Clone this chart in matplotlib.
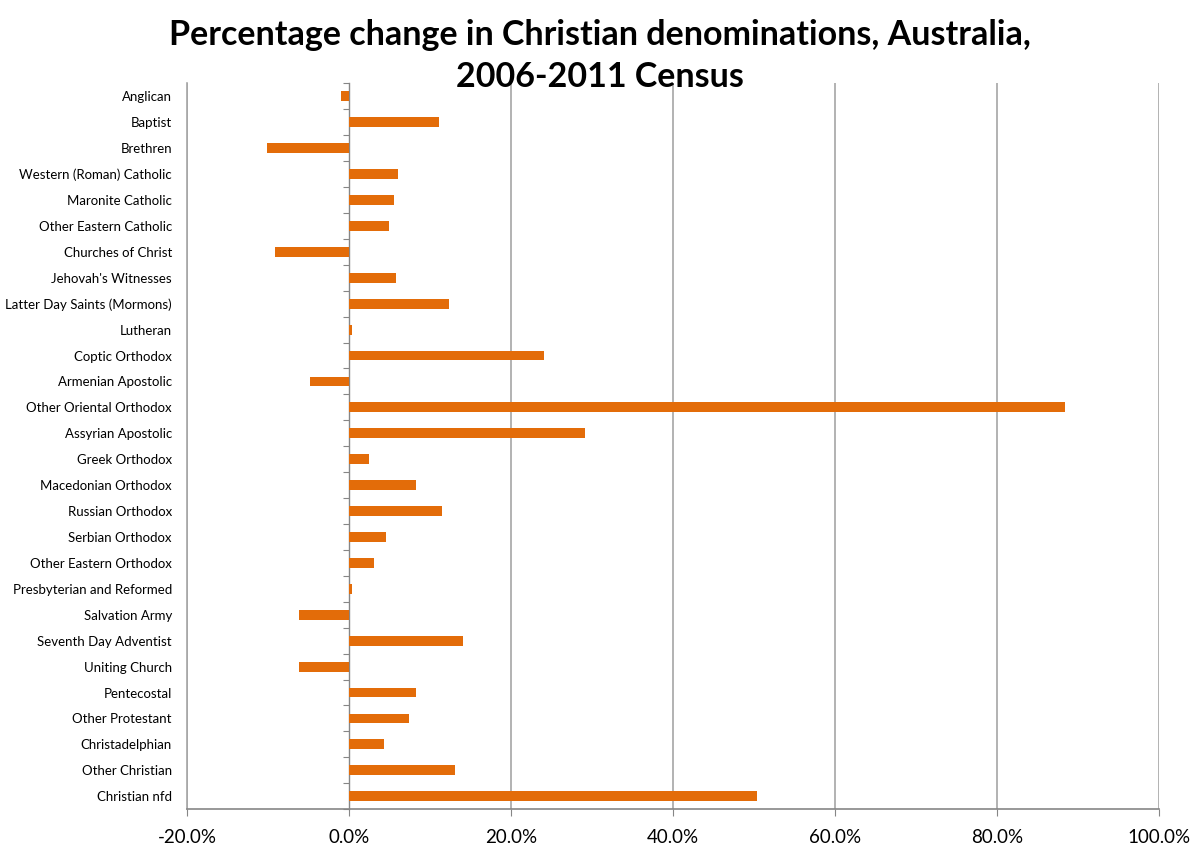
import matplotlib
matplotlib.use("Agg")
import matplotlib.pyplot as plt
import numpy as np

# Percentage change 2006-2011
denominations = [
    "Anglican", "Baptist", "Brethren", "Western (Roman) Catholic",
    "Maronite Catholic", "Other Eastern Catholic", "Churches of Christ",
    "Jehovah's Witnesses", "Latter Day Saints (Mormons)", "Lutheran",
    "Coptic Orthodox", "Armenian Apostolic", "Other Oriental Orthodox",
    "Assyrian Apostolic", "Greek Orthodox", "Macedonian Orthodox",
    "Russian Orthodox", "Serbian Orthodox", "Other Eastern Orthodox",
    "Presbyterian and Reformed", "Salvation Army", "Seventh Day Adventist",
    "Uniting Church", "Pentecostal", "Other Protestant", "Christadelphian",
    "Other Christian", "Christian nfd",
]
pct_change = [
    -1.0, 11.1, -10.2, 6.0,
    5.5, 4.9, -9.2,
    5.8, 12.3, 0.3,
    24.0, -4.8, 88.4,
    29.1, 2.4, 8.3,
    11.4, 4.6, 3.1,
    0.4, -6.2, 14.0,
    -6.2, 8.3, 7.4, 4.3,
    13.0, 50.4,
]
x_ticks = [-20, 0, 20, 40, 60, 80, 100]

plt.rcParams["font.family"] = ["Lato", "DejaVu Sans"]

fig = plt.figure(figsize=(12, 8.59), dpi=100)
ax = fig.add_axes([0.156, 0.058, 0.81, 0.845])

y = np.arange(len(denominations))
ax.barh(y, pct_change, height=0.38, color="#E36C09", zorder=3)

ax.set_xlim(-20, 100)
ax.set_ylim(len(denominations) - 0.5, -0.5)

# x axis
ax.set_xticks(x_ticks)
ax.set_xticklabels([f"{t:.1f}%" for t in x_ticks], fontsize=13.5)
ax.tick_params(axis="x", direction="out", length=5, color="#868686", pad=9)
for t in x_ticks:
    if t != 0:
        ax.axvline(t, color="#a6a6a6", lw=1.2, zorder=1)

# category labels on the left
ax.set_yticks(y)
ax.set_yticklabels(denominations, fontsize=9.5)
ax.tick_params(axis="y", length=0, pad=11)

for side in ["top", "right"]:
    ax.spines[side].set_visible(False)
ax.spines["left"].set_color("#a6a6a6")
ax.spines["left"].set_linewidth(1.2)
ax.spines["bottom"].set_color("#868686")
ax.spines["bottom"].set_linewidth(1.2)

# vertical category axis crossing at zero, with tick marks between categories
x0, x1 = ax.get_xlim()
zero_pos = (0 - x0) / (x1 - x0)
cat_axis = ax.secondary_yaxis(zero_pos)
cat_axis.set_yticks(np.arange(len(denominations) + 1) - 0.5)
cat_axis.set_yticklabels([])
cat_axis.tick_params(length=4, color="#868686", direction="out")
cat_axis.spines["left"].set_color("#868686")
cat_axis.spines["left"].set_linewidth(1.0)

fig.text(0.5, 1 - 19 / 859,
         "Percentage change in Christian denominations, Australia,\n2006-2011 Census",
         ha="center", va="top", fontsize=24.5, fontweight="bold", linespacing=1.4)

fig.savefig("out.png", dpi=100, facecolor="white")
